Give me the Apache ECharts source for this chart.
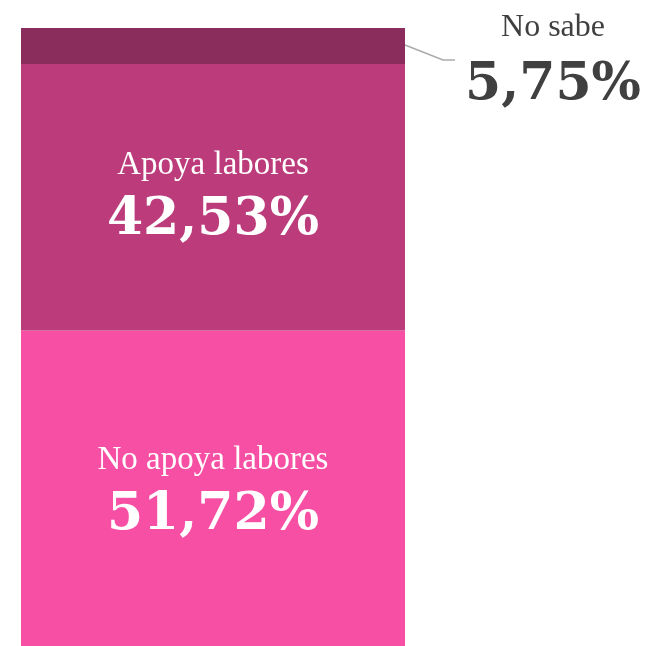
<!DOCTYPE html>
<html>
<head>
<meta charset="utf-8">
<script src="https://cdn.jsdelivr.net/npm/echarts@6/dist/echarts.min.js"></script>
<style>
html,body{margin:0;padding:0;background:#fff;}
#chart{width:652px;height:646px;}
</style>
</head>
<body>
<div id="chart"></div>
<script>
var categories = ['Labores'];
var seriesNames = ['No apoya labores', 'Apoya labores', 'No sabe'];
var values = [51.72, 42.53, 5.75];
var colors = ['#F74FA4', '#BC3B7B', '#8B2D5C'];

function fmt(v){
	return v.toFixed(2).replace('.', ',') + '%';
}

var richWhite = {
	n: {fontFamily: 'Liberation Serif', fontSize: 33, color: '#fff', lineHeight: 48},
	v: {fontFamily: 'DejaVu Serif', fontWeight: 'bold', fontSize: 52, color: '#fff', lineHeight: 62}
};
var richDark = {
	n: {fontFamily: 'Liberation Serif', fontSize: 32, color: '#404040', lineHeight: 50, align: 'center'},
	v: {fontFamily: 'DejaVu Serif', fontWeight: 'bold', fontSize: 52, color: '#404040', lineHeight: 64, align: 'center'}
};

var gridLeft = 21, gridTop = 28, gridWidth = 384, gridHeight = 618;

var series = [];
for (var i = 0; i < values.length; i++) {
	var s = {
		name: seriesNames[i],
		type: 'bar',
		stack: 'total',
		barWidth: '100%',
		clip: false,
		data: [values[i]],
		itemStyle: {color: colors[i]},
		label: {
			show: true,
			position: 'inside',
			offset: [0, -1],
			formatter: '{n|{a}}\n{v|' + fmt(values[i]) + '}',
			rich: richWhite
		}
	};
	if (i == 2) {
		s.label = {
			show: true,
			position: 'right',
			formatter: '{n|{a}}\n{v|' + fmt(values[i]) + '}',
			rich: richDark
		};
		s.labelLayout = {x: 553, y: 60, align: 'center', verticalAlign: 'middle'};
	}
	series.push(s);
}

var myChart = echarts.init(document.getElementById('chart'));
var option = {
	animation: false,
	grid: {left: gridLeft, top: gridTop, width: gridWidth, height: gridHeight},
	xAxis: {type: 'category', data: categories, show: false},
	yAxis: {type: 'value', min: 1.4, max: 100, show: false},
	series: series
};
myChart.setOption(option);

// leader line for the small top segment
var yMid = myChart.convertToPixel({yAxisIndex: 0}, 100 - values[2] / 2);
var xRight = gridLeft + gridWidth;
myChart.setOption({
	graphic: [{
		type: 'polyline',
		silent: true,
		shape: {points: [[xRight, yMid - 1], [xRight + 38, yMid + 14], [xRight + 50, yMid + 14]]},
		style: {stroke: '#aaaaaa', lineWidth: 1.5, fill: null}
	}]
});
</script>
</body>
</html>
